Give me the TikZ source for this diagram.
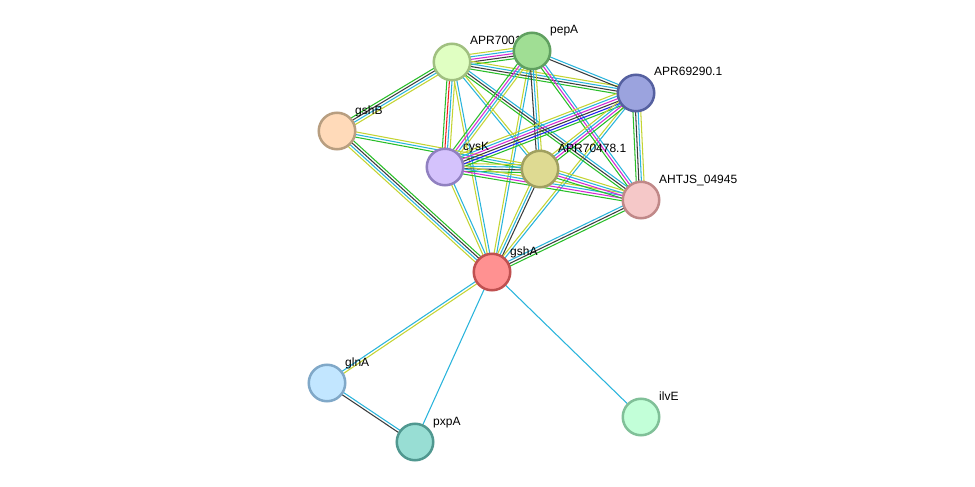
\documentclass[tikz,border=0pt]{standalone}
\usepackage{fontspec}
\setmainfont{Liberation Sans}
\usetikzlibrary{calc,backgrounds}
\definecolor{cY}{RGB}{196,212,50}
\definecolor{cC}{RGB}{40,180,220}
\definecolor{cK}{RGB}{60,60,60}
\definecolor{cM}{RGB}{212,40,212}
\definecolor{cG}{RGB}{40,190,40}
\definecolor{cB}{RGB}{30,30,240}
\definecolor{cR}{RGB}{240,30,30}
\definecolor{fAPRa}{RGB}{224,255,194}\definecolor{dAPRa}{RGB}{160,192,128}
\definecolor{fpepA}{RGB}{160,222,148}\definecolor{dpepA}{RGB}{96,160,96}
\definecolor{fAPRb}{RGB}{155,163,222}\definecolor{dAPRb}{RGB}{85,96,160}
\definecolor{fgshB}{RGB}{255,218,185}\definecolor{dgshB}{RGB}{184,158,128}
\definecolor{fcysK}{RGB}{212,194,252}\definecolor{dcysK}{RGB}{144,128,192}
\definecolor{fAPRc}{RGB}{222,218,146}\definecolor{dAPRc}{RGB}{160,160,96}
\definecolor{fAHT}{RGB}{245,200,200}\definecolor{dAHT}{RGB}{192,136,136}
\definecolor{fgshA}{RGB}{255,145,145}\definecolor{dgshA}{RGB}{192,80,80}
\definecolor{fglnA}{RGB}{194,230,255}\definecolor{dglnA}{RGB}{128,168,200}
\definecolor{fpxpA}{RGB}{152,222,212}\definecolor{dpxpA}{RGB}{80,152,144}
\definecolor{filvE}{RGB}{194,255,216}\definecolor{dilvE}{RGB}{128,192,152}
\tikzset{
  prot/.style={circle, line width=2.5pt, minimum size=36.5pt, inner sep=0pt},
  lbl/.style={anchor=base west, font=\fontsize{12}{14}\selectfont, inner sep=0pt, text=black},
  edge/.style={line width=1.05pt},
}
\newcommand\bund[3]{%
  \foreach \cc [count=\ii] in {#3} {\xdef\nbund{\ii}}%
  \foreach \cc [count=\ii] in {#3} {%
    \pgfmathsetmacro\off{(\ii-(\nbund+1)/2)*2.6}%
    \draw[edge,color=\cc] ($(#1)!\off pt!90:(#2)$) -- ($(#2)!\off pt!-90:(#1)$);
  }%
}
\newcommand\prot[5]{% name, x, y, colorkey, label
  \node[prot, fill=f#4, draw=d#4] (#1) at (#2,#3) {};
  \node[lbl] (#1-l) at ($(#1)+(18,-17)$) {#5};
}
\begin{document}
\begin{tikzpicture}[x=1pt,y=-1pt]
\useasboundingbox (0,0) rectangle (975,487);
\prot{gshB}{337}{131}{gshB}{gshB}
\prot{APRa}{452}{62}{APRa}{APR70013.1}
\prot{pepA}{532}{51}{pepA}{pepA}
\prot{APRb}{636}{93}{APRb}{APR69290.1}
\prot{cysK}{445}{167}{cysK}{cysK}
\prot{APRc}{540}{169}{APRc}{APR70478.1}
\prot{AHT}{641}{200}{AHT}{AHTJS\_04945}
\prot{gshA}{492}{272}{gshA}{gshA}
\prot{glnA}{327}{383}{glnA}{glnA}
\prot{pxpA}{415}{442}{pxpA}{pxpA}
\prot{ilvE}{641}{417}{ilvE}{ilvE}
\begin{pgfonlayer}{background}
\fill[white] (0,0) rectangle (975,487);
\bund{gshA}{gshB}{cG,cK,cC,cY}
\bund{gshA}{cysK}{cC,cY}
\bund{gshA}{APRa}{cC,cY}
\bund{gshA}{pepA}{cC,cY}
\bund{gshA}{APRc}{cK,cC,cY}
\bund{gshA}{APRb}{cC,cY}
\bund{gshA}{AHT}{cG,cK,cC}
\bund{gshA}{glnA}{cC,cY}
\bund{gshA}{pxpA}{cC}
\bund{gshA}{ilvE}{cC}
\bund{glnA}{pxpA}{cK,cC}
\bund{APRa}{pepA}{cG,cK,cM,cC,cY}
\bund{APRa}{gshB}{cG,cK,cC,cY}
\bund{APRa}{cysK}{cG,cR,cC,cY}
\bund{APRa}{APRc}{cC,cY}
\bund{APRa}{APRb}{cG,cK,cC,cY}
\bund{APRa}{AHT}{cG,cK,cC}
\bund{pepA}{APRb}{cK,cC}
\bund{pepA}{cysK}{cG,cM,cC,cY}
\bund{pepA}{APRc}{cK,cC,cY}
\bund{pepA}{AHT}{cG,cM,cC}
\bund{gshB}{APRc}{cG,cC,cY}
\bund{cysK}{APRc}{cG,cK,cC,cY}
\bund{cysK}{APRb}{cG,cB,cK,cM,cC,cY}
\bund{cysK}{AHT}{cG,cM,cC,cY}
\bund{APRc}{APRb}{cG,cM,cC,cY}
\bund{APRc}{AHT}{cG,cM,cC,cY}
\bund{APRb}{AHT}{cG,cK,cC,cY}
\end{pgfonlayer}
\end{tikzpicture}
\end{document}
